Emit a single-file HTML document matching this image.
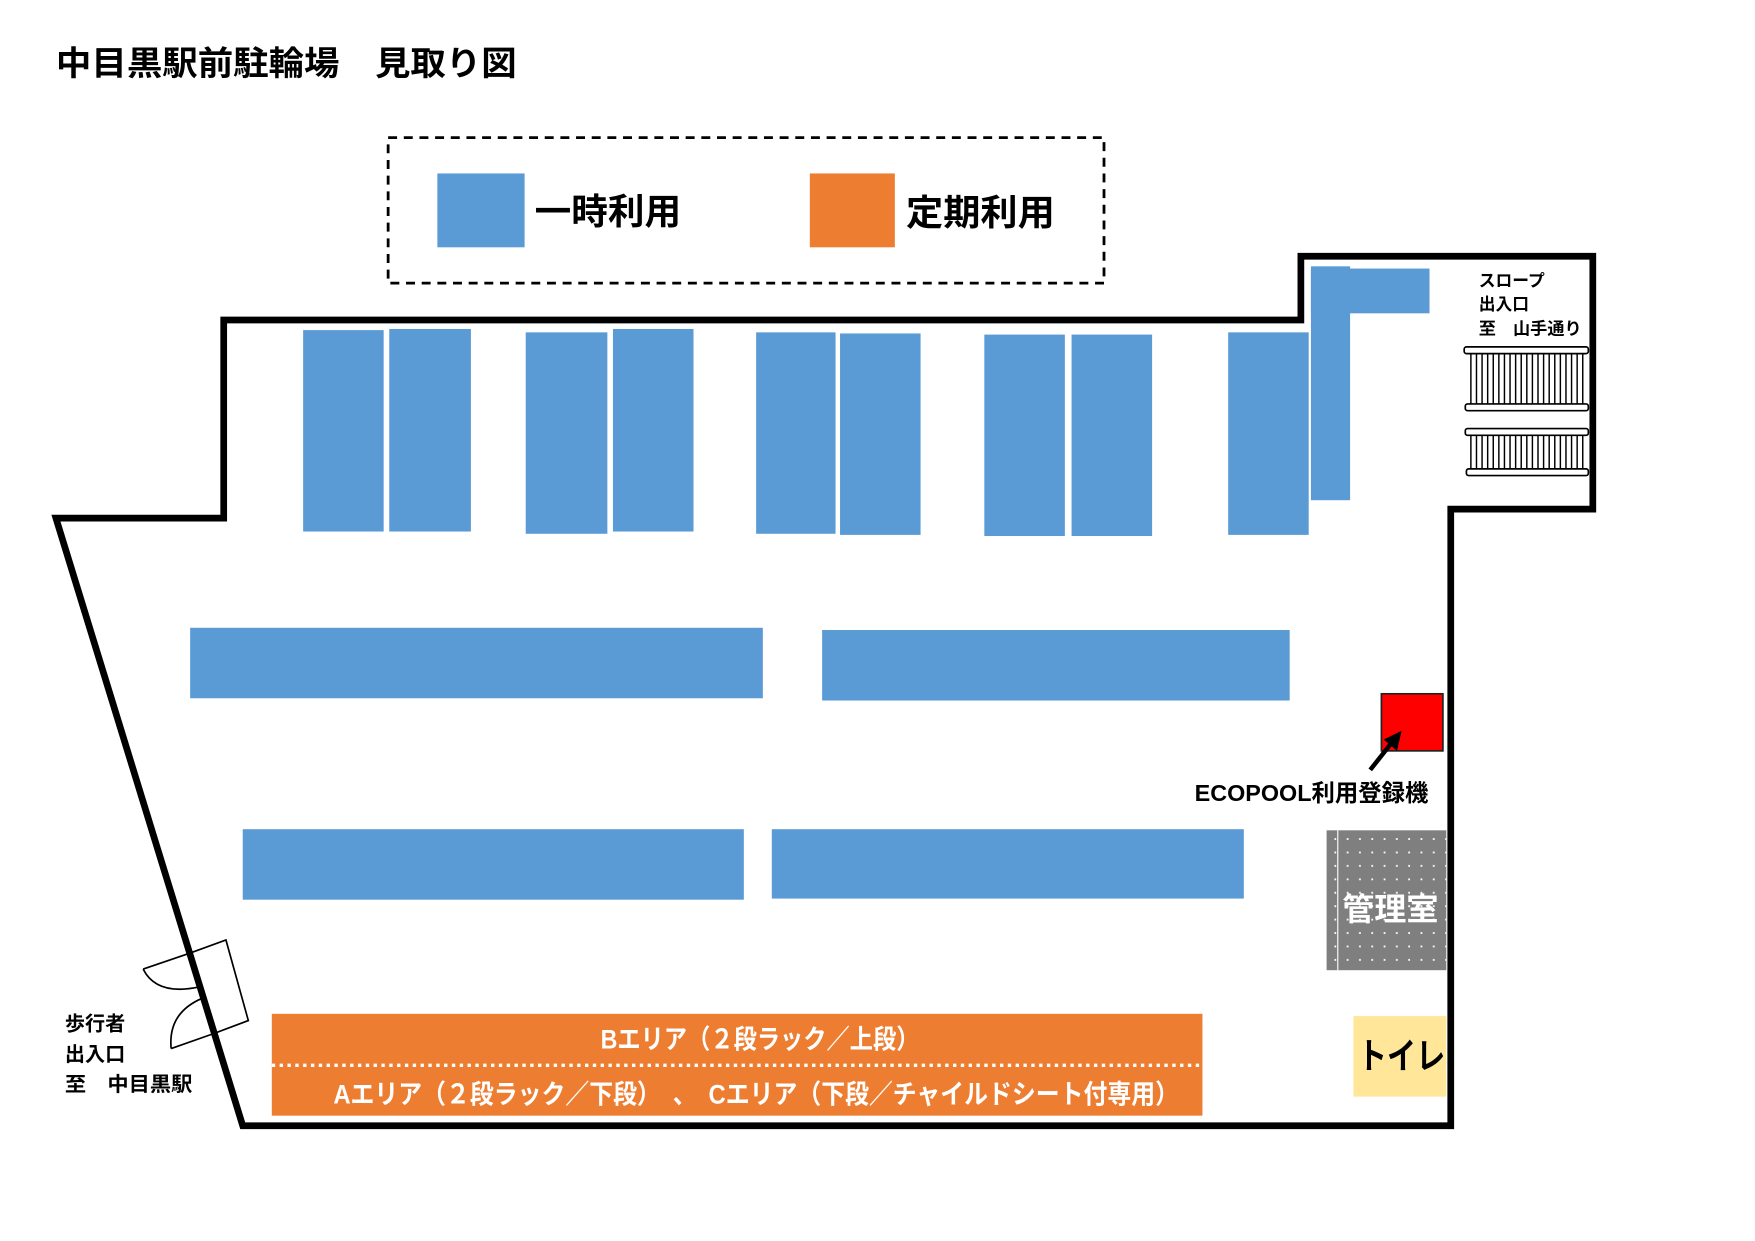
<!DOCTYPE html>
<html><head><meta charset="utf-8"><style>
html,body{margin:0;padding:0;background:#fff;}
svg{display:block;}
text{font-family:"Liberation Sans","Noto Sans CJK JP",sans-serif;font-weight:bold;}
</style></head><body>
<svg width="1755" height="1241" viewBox="0 0 1569 1109" preserveAspectRatio="none" xmlns="http://www.w3.org/2000/svg">
<defs>
<pattern id="dots" x="0" y="0" width="11" height="12" patternUnits="userSpaceOnUse">
<rect x="5" y="5" width="1.6" height="1.6" fill="#fff"/>
</pattern>
</defs>
<text x="50" y="67" font-size="30" textLength="412" lengthAdjust="spacingAndGlyphs">中目黒駅前駐輪場　見取り図</text>
<rect x="347" y="123" width="640" height="130" fill="none" stroke="#000" stroke-width="2.5" stroke-dasharray="8,6"/>
<rect x="391" y="155" width="78" height="66" fill="#5B9BD5"/>
<text x="478" y="200" font-size="32" textLength="131" lengthAdjust="spacingAndGlyphs">一時利用</text>
<rect x="724" y="155" width="76" height="66" fill="#ED7D31"/>
<text x="810" y="201" font-size="32" textLength="133" lengthAdjust="spacingAndGlyphs">定期利用</text>

<g fill="#5B9BD5">
<rect x="271" y="295" width="72" height="180"/>
<rect x="348" y="294" width="73" height="181"/>
<rect x="470" y="297" width="73" height="180"/>
<rect x="548" y="294" width="72" height="181"/>
<rect x="676" y="297" width="71" height="180"/>
<rect x="751" y="298" width="72" height="180"/>
<rect x="880" y="299" width="72" height="180"/>
<rect x="958" y="299" width="72" height="180"/>
<rect x="1098" y="297" width="72" height="181"/>
<rect x="1172" y="238" width="35" height="209"/>
<rect x="1172" y="240" width="106" height="40"/>
<rect x="170" y="561" width="512" height="63"/>
<rect x="735" y="563" width="418" height="63"/>
<rect x="217" y="741" width="448" height="63"/>
<rect x="690" y="741" width="422" height="62"/>
</g>

<polygon points="50,463 200,463 200,286 1163,286 1163,229 1424,229 1424,455 1297,455 1297,1006 217,1006" fill="none" stroke="#000" stroke-width="6" stroke-linejoin="miter"/>

<text x="1322" y="256" font-size="15">スロープ</text>
<text x="1322" y="277" font-size="15">出入口</text>
<text x="1322" y="299" font-size="15" textLength="92" lengthAdjust="spacingAndGlyphs">至　山手通り</text>
<g stroke="#000" stroke-width="1.5" fill="#fff">
<rect x="1309" y="310" width="111" height="6" rx="2"/>
<rect x="1310" y="361" width="110" height="6" rx="2"/>
<rect x="1310" y="383" width="110" height="6" rx="2"/>
<rect x="1311" y="419" width="109" height="6" rx="2"/>
</g>
<g stroke="#000" stroke-width="1.3">
<path d="M1315 316V361M1320 316V361M1325 316V361M1330 316V361M1335 316V361M1340 316V361M1345 316V361M1350 316V361M1355 316V361M1360 316V361M1365 316V361M1370 316V361M1375 316V361M1380 316V361M1385 316V361M1390 316V361M1395 316V361M1400 316V361M1405 316V361M1410 316V361M1415 316V361"/>
<path d="M1315 389V419M1320 389V419M1325 389V419M1330 389V419M1335 389V419M1340 389V419M1345 389V419M1350 389V419M1355 389V419M1360 389V419M1365 389V419M1370 389V419M1375 389V419M1380 389V419M1385 389V419M1390 389V419M1395 389V419M1400 389V419M1405 389V419M1410 389V419M1415 389V419"/>
</g>

<rect x="1235" y="620" width="55" height="51" fill="#FF0000" stroke="#222" stroke-width="1.5"/>
<line x1="1225" y1="688" x2="1244" y2="664" stroke="#000" stroke-width="4"/>
<polygon points="1253,653 1249,671 1237,661" fill="#000"/>
<text x="1068" y="716" font-size="21" textLength="209" lengthAdjust="spacingAndGlyphs">ECOPOOL利用登録機</text>

<rect x="1186" y="742" width="107" height="125" fill="#7F7F7F"/>
<rect x="1186" y="742" width="107" height="125" fill="url(#dots)"/>
<line x1="1196" y1="742" x2="1196" y2="867" stroke="#fff" stroke-width="1"/>
<text x="1243" y="822" font-size="28" fill="#fff" text-anchor="middle" textLength="86" lengthAdjust="spacingAndGlyphs">管理室</text>

<rect x="1210" y="908" width="83" height="72" fill="#FFE699"/>
<text x="1214" y="955" font-size="32" textLength="78" lengthAdjust="spacingAndGlyphs">トイレ</text>

<rect x="243" y="906" width="832" height="91" fill="#ED7D31"/>
<line x1="243" y1="952" x2="1075" y2="952" stroke="#fff" stroke-width="3" stroke-dasharray="3,4"/>
<text x="537" y="937" font-size="24" fill="#fff" textLength="285" lengthAdjust="spacingAndGlyphs">Bエリア（２段ラック／上段）</text>
<text x="298" y="986" font-size="24" fill="#fff" textLength="756" lengthAdjust="spacingAndGlyphs">Aエリア（２段ラック／下段）　、　Cエリア（下段／チャイルドシート付専用）</text>

<g fill="none" stroke="#000" stroke-width="1.5">
<polygon points="169,852 202,840 222,912 190,924"/>
<line x1="169" y1="852" x2="128" y2="866"/>
<path d="M128,866 Q140,890 178,882"/>
<line x1="190" y1="924" x2="153" y2="937"/>
<path d="M153,937 Q150,905 181,892"/>
</g>
<text x="58" y="921" font-size="18">歩行者</text>
<text x="58" y="948" font-size="18">出入口</text>
<text x="58" y="975" font-size="18" textLength="114" lengthAdjust="spacingAndGlyphs">至　中目黒駅</text>
</svg>
</body></html>
